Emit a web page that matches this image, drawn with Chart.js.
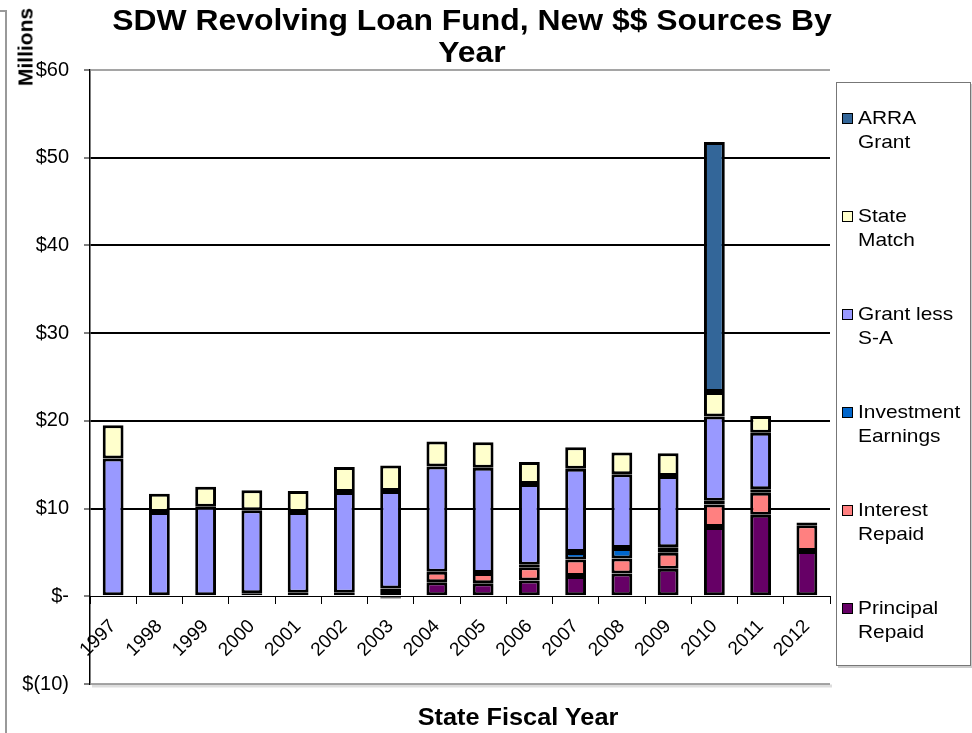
<!DOCTYPE html>
<html lang="en">
<head>
    <meta charset="UTF-8">
    <title>SDW Revolving Loan Fund</title>
    <script src="https://cdn.jsdelivr.net/npm/chart.js"></script>
    <style>
        body { margin: 0; background: #fff; font-family: "Liberation Sans", Arial, sans-serif; }
        #wrap { position: relative; width: 972px; height: 733px; overflow: hidden; }
        #chart { position: absolute; left: 0; top: 0; }
        .txt { position: absolute; white-space: nowrap; color: #000; }
        #title { left: 472px; top: 4px; font-size: 29px; font-weight: bold; line-height: 32px; text-align: center;
                 transform: translateX(-50%) scaleX(1.1); }
        #xtitle { left: 518px; top: 706px; font-size: 23px; font-weight: bold; line-height: 23px;
                  transform: translateX(-50%) scaleX(1.1); }
        #ytitle { left: 25px; top: 47px; font-size: 21px; font-weight: bold; line-height: 21px;
                  transform: translate(-50%, -50%) rotate(-90deg); }
        #frame { position: absolute; left: -20px; top: 10px; width: 25px; height: 800px;
                 border-top: 2px solid #999; border-right: 2px solid #999; }
        #legend { position: absolute; left: 836px; top: 82px; width: 133px; height: 582px;
                  border: 1px solid #777; box-shadow: 2px 2px 0 #ccc; background: #fff; }
        .item { position: absolute; left: 4px; font-size: 19px; line-height: 24px; white-space: nowrap; }
        .item .box { position: absolute; left: 1px; top: 7px; width: 9px; height: 9px; border: 1.5px solid #000; }
        .item .lab { position: absolute; left: 17px; top: 0; transform: scaleX(1.1); transform-origin: left top; white-space: nowrap; }
    </style>
</head>
<body>
<div id="wrap">
    <canvas id="chart" width="972" height="733"></canvas>
    <div id="frame"></div>
    <div class="txt" id="title">SDW Revolving Loan Fund, New $$ Sources By<br>Year</div>
    <div class="txt" id="ytitle">Millions</div>
    <div class="txt" id="xtitle">State Fiscal Year</div>
    <div id="legend"></div>
</div>

<script>
    // fiscal years
    const years = ['1997', '1998', '1999', '2000', '2001', '2002', '2003', '2004',
                   '2005', '2006', '2007', '2008', '2009', '2010', '2011', '2012'];

    // $ millions (bottom of stack first)
    const principalRepaid    = [null, null, null, null, 0.4, 0.4, 0.6, 1.6, 1.5, 1.8, 2.3, 2.6, 3.15, 7.9, 9.3, 5.15];
    const interestRepaid     = [null, null, null, null, null, null, 0.3, 1.2, 1.15, 1.5, 1.9, 1.7, 1.8, 2.55, 2.5, 2.95];
    const investmentEarnings = [null, null, null, 0.35, null, null, -0.25, null, null, 0.3, 0.85, 1.2, 0.65, 0.45, 0.4, 0.3];
    const grantLessSA        = [15.7, 9.6, 10.2, 9.45, 9.2, 11.5, 11.1, 12.0, 12.0, 9.2, 9.5, 8.4, 8.1, 9.6, 6.45, null];
    const stateMatch         = [3.8, 2.1, 2.3, 2.3, 2.4, 2.85, 2.9, 2.85, 2.9, 2.5, 2.45, 2.5, 2.6, 2.8, 1.9, null];
    const arraGrant          = [null, null, null, null, null, null, null, null, null, null, null, null, null, 28.5, null, null];

    const seriesNames  = ['Principal Repaid', 'Interest Repaid', 'Investment Earnings', 'Grant less S-A', 'State Match', 'ARRA Grant'];
    const legendLines  = [['Principal', 'Repaid'], ['Interest', 'Repaid'], ['Investment', 'Earnings'], ['Grant less', 'S-A'], ['State', 'Match'], ['ARRA', 'Grant']];
    const seriesColors = ['#660066', '#FF8080', '#0066CC', '#9999FF', '#FFFFCC', '#336699'];
    const seriesData   = [principalRepaid, interestRepaid, investmentEarnings, grantLessSA, stateMatch, arraGrant];

    const yMin = -10, yMax = 60, yStep = 10;

    function money(v) {
        if (v === 0) return '$-';
        if (v < 0) return '$(' + Math.abs(v) + ')';
        return '$' + v;
    }

    // gray frame lines at the top and bottom of the plot
    const plotFrame = {
        id: 'plotFrame',
        beforeDatasetsDraw(chart) {
            const a = chart.chartArea, ctx = chart.ctx;
            ctx.save();
            ctx.strokeStyle = '#ddd';
            ctx.lineWidth = 3;
            ctx.beginPath();
            ctx.moveTo(a.left + 2, a.bottom + 2);
            ctx.lineTo(a.right + 2, a.bottom + 2);
            ctx.stroke();
            ctx.strokeStyle = '#888';
            ctx.lineWidth = 1.5;
            ctx.beginPath();
            ctx.moveTo(a.left, a.top);
            ctx.lineTo(a.right, a.top);
            ctx.moveTo(a.left, a.bottom);
            ctx.lineTo(a.right, a.bottom);
            ctx.stroke();
            ctx.restore();
        }
    };

    const datasets = seriesNames.map((name, i) => ({
        label: name,
        data: seriesData[i],
        backgroundColor: seriesColors[i],
        borderColor: '#000',
        borderWidth: 3,
        borderSkipped: false,
        categoryPercentage: 1.0,
        barPercentage: 0.45
    }));

    const ctx = document.getElementById('chart').getContext('2d');
    new Chart(ctx, {
        type: 'bar',
        data: { labels: years, datasets: datasets },
        plugins: [plotFrame],
        options: {
            responsive: false,
            animation: false,
            layout: { padding: { top: 70, right: 142, bottom: 49, left: 0 } },
            plugins: {
                legend: { display: false },
                title: { display: false },
                tooltip: { enabled: false }
            },
            scales: {
                x: {
                    stacked: true,
                    position: { y: 0 },
                    border: { display: true, color: '#000', width: 1 },
                    grid: { display: true, drawOnChartArea: false, drawTicks: true, tickLength: 7, tickColor: '#000', offset: true },
                    ticks: {
                        color: '#000',
                        font: { family: '"Liberation Sans", Arial', size: 19 },
                        minRotation: 45, maxRotation: 45,
                        padding: 12,
                        autoSkip: false
                    }
                },
                y: {
                    stacked: true,
                    min: yMin, max: yMax,
                    afterFit(scale) { scale.width = 90; },
                    border: { display: true, color: '#000', width: 1.5 },
                    grid: {
                        color: c => (c.tick.value > yMin && c.tick.value < yMax && c.tick.value !== 0) ? '#000' : 'rgba(0,0,0,0)',
                        lineWidth: 2,
                        drawTicks: true,
                        tickLength: 6,
                        tickColor: '#000',
                        tickWidth: 1
                    },
                    ticks: {
                        stepSize: yStep,
                        color: '#000',
                        padding: 15,
                        font: { family: '"Liberation Sans", Arial', size: 20 },
                        callback: v => money(v)
                    }
                }
            }
        }
    });

    // legend: top entry is the last series, like the original
    const legend = document.getElementById('legend');
    const itemTops = [513, 415, 317, 219, 121, 23];
    seriesNames.forEach((name, i) => {
        const it = document.createElement('div');
        it.className = 'item';
        it.style.top = itemTops[i] + 'px';
        it.innerHTML = '<div class="box" style="background:' + seriesColors[i] + '"></div>' +
                       '<div class="lab">' + legendLines[i].join('<br>') + '</div>';
        legend.appendChild(it);
    });
</script>
</body>
</html>
